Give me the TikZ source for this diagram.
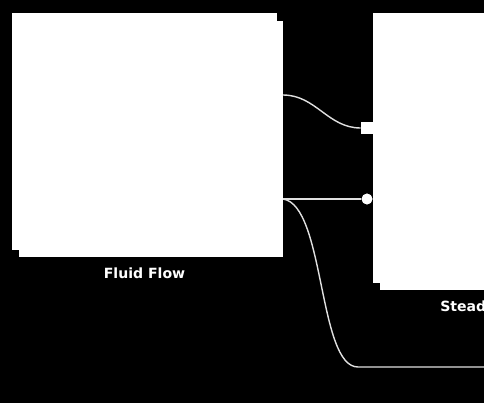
\documentclass[tikz,border=0pt]{standalone}
\usepackage{fontspec}
\setsansfont{DejaVu Sans}
\usetikzlibrary{positioning,shadows}
\begin{document}
\begin{tikzpicture}[x=0.025cm,y=-0.025cm,
  box/.style={rectangle,fill=white,inner sep=0pt,copy shadow={shadow xshift=0.16cm,shadow yshift=-0.18cm}},
  lbl/.style={text=white,font=\sffamily\bfseries\fontsize{10}{12}\selectfont,inner sep=0pt},
  wire/.style={draw=white!88!black,line width=1pt},
  sqport/.style={rectangle,fill=white,minimum size=0.3cm,inner sep=0pt},
  dotport/.style={circle,fill=white,minimum size=0.27cm,inner sep=0pt}]
\useasboundingbox (0,0) rectangle (484,403);
\fill[black] (0,0) rectangle (484,403);
\clip (0,0) rectangle (484,403);
\node[box,minimum width=6.625cm,minimum height=5.925cm] (fluid) at (144.5,131.5) {};
\node[box,minimum width=7.5cm,minimum height=6.75cm] (steady) at (523,148) {};
\coordinate (f1) at (283,95);
\coordinate (f2) at (283,199);
\coordinate (bend) at (358,367);
\coordinate (far) at (500,367);
\node[sqport] (in1) at (367,128) {};
\node[dotport] (in2) at (367,199) {};
\draw[wire] (f1) to[out=0,in=180] (in1.west);
\draw[wire] (f2) -- (in2);
\draw[wire] (f2) .. controls (325,205) and (318,367) .. (bend) -- (far);
\node[sqport] at (in1) {};
\node[dotport] at (in2) {};
\node[lbl,below=0.42cm of fluid] (fluidlbl) {Fluid Flow};
\node[lbl,anchor=west] (steadylbl) at (440,308) {Steady};
\end{tikzpicture}
\end{document}
